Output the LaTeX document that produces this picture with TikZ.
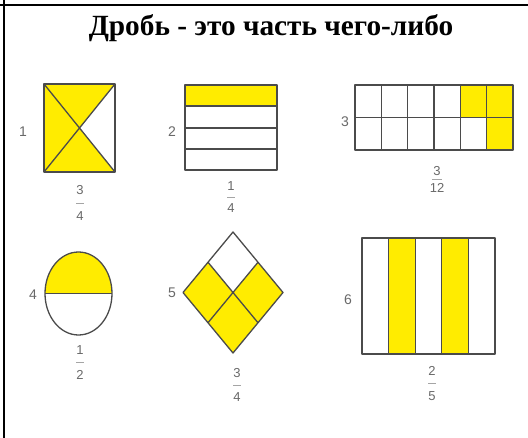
\documentclass[tikz,border=0pt]{standalone}
\usepackage{fontspec}
\setmainfont{Liberation Serif}
\newfontfamily\labfont{Liberation Sans}
\definecolor{fy}{RGB}{255,236,0}
\definecolor{ln}{RGB}{75,75,75}
\definecolor{tx}{RGB}{105,105,105}
\begin{document}
\begin{tikzpicture}[x=1pt,y=-1pt,
  shp/.style={draw=ln,line width=1.3pt,line join=round},
  lbl/.style={font=\labfont\fontsize{14}{14}\selectfont,text=tx,inner sep=0pt},
  fr/.style={font=\labfont\fontsize{13}{13}\selectfont,text=tx,inner sep=0pt},
  bar/.style={draw=tx!60,line width=0.6pt}]
\useasboundingbox (0,0) rectangle (528,438);
\fill[white] (0,0) rectangle (528,438);
\draw[line width=2pt] (0,5.3) -- (528,5.3);
\draw[line width=2pt] (3.6,0) -- (3.6,438);
\node[anchor=base,inner sep=0pt,font=\bfseries\fontsize{29.3}{29.3}\selectfont] (title) at (271,35.5) {Дробь - это часть чего-либо};

% shape 1
\fill[fy] (44,84) rectangle (115,172);
\fill[white] (115,84) -- (115,172) -- (79.5,128) -- cycle;
\draw[shp] (44,84) rectangle (115,172);
\draw[shp] (44,84) -- (115,172) (115,84) -- (44,172);
\node[lbl] (l1) at (23,132) {1};
\node[fr] (n1) at (80,190) {3};
\draw[bar] (76,203) -- (84,203);
\node[fr] (d1) at (80,216) {4};

% shape 2
\fill[fy] (185,85) rectangle (277,106);
\draw[shp] (185,85) rectangle (277,170);
\draw[shp] (185,106) -- (277,106) (185,128) -- (277,128) (185,149) -- (277,149);
\node[lbl] (l2) at (172,132) {2};
\node[fr] (n2) at (231,186) {1};
\draw[bar] (227,197) -- (235,197);
\node[fr] (d2) at (231,208) {4};

% shape 3
\fill[fy] (460.3,85) rectangle (513,117.5);
\fill[fy] (486.7,117.5) rectangle (513,150);
\draw[shp] (355,85) rectangle (513,150);
\draw[shp] (355,117.5) -- (513,117.5);
\foreach \i in {1,...,5} \draw[shp] ({355+\i*158/6},85) -- ({355+\i*158/6},150);
\node[lbl] (l3) at (345,122) {3};
\node[fr] (n3) at (437,171) {3};
\draw[bar] (432,179.5) -- (442,179.5);
\node[fr] (d3) at (437,188) {12};

% shape 4
\fill[fy] (45,293.5) arc[start angle=180,end angle=360,x radius=33.5,y radius=41.5] -- cycle;
\draw[shp] (78.5,293.5) ellipse[x radius=33.5,y radius=41.5];
\draw[shp] (45,293.5) -- (112,293.5);
\node[lbl] (l4) at (33,295) {4};
\node[fr] (n4) at (80,350) {1};
\draw[bar] (76,362) -- (84,362);
\node[fr] (d4) at (80,375) {2};

% shape 5
\fill[fy] (233,232) -- (283,292.5) -- (233,353) -- (183,292.5) -- cycle;
\fill[white] (233,232) -- (258,262.25) -- (233,292.5) -- (208,262.25) -- cycle;
\draw[shp] (233,232) -- (283,292.5) -- (233,353) -- (183,292.5) -- cycle;
\draw[shp] (208,262.25) -- (258,322.75) (258,262.25) -- (208,322.75);
\node[lbl] (l5) at (172,293) {5};
\node[fr] (n5) at (237,373) {3};
\draw[bar] (233,385) -- (241,385);
\node[fr] (d5) at (237,397) {4};

% shape 6
\fill[fy] (388.6,238) rectangle (415.2,354);
\fill[fy] (441.8,238) rectangle (468.4,354);
\draw[shp] (362,238) rectangle (495,354);
\foreach \i in {1,...,4} \draw[shp] ({362+\i*133/5},238) -- ({362+\i*133/5},354);
\node[lbl] (l6) at (348,300) {6};
\node[fr] (n6) at (432,371) {2};
\draw[bar] (428,383.5) -- (436,383.5);
\node[fr] (d6) at (432,396) {5};
\end{tikzpicture}
\end{document}
